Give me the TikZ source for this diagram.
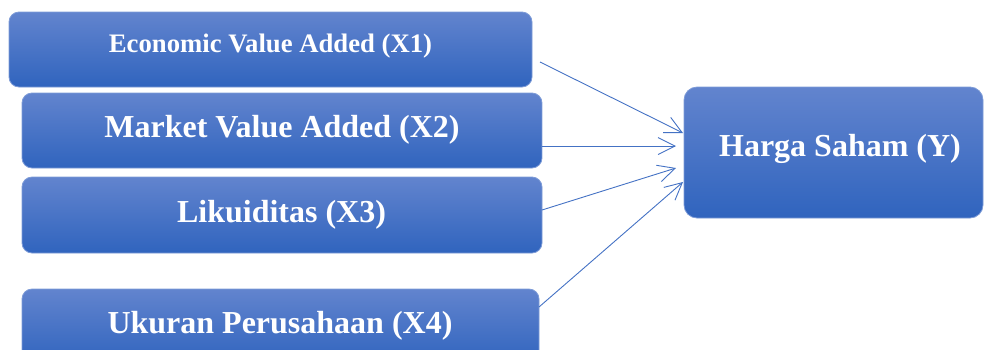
\documentclass[tikz,border=0pt]{standalone}
\usepackage{fontspec}
\setmainfont{Liberation Serif}
\usetikzlibrary{arrows.meta}

\definecolor{boxtop}{RGB}{98,132,206}
\definecolor{boxbot}{RGB}{48,100,190}
\definecolor{boxedge}{RGB}{125,155,215}
\definecolor{linkblue}{RGB}{68,114,196}

\begin{document}
\begin{tikzpicture}[x=1pt,y=-1pt,
  varbox/.style={draw=boxedge, line width=0.8pt, rounded corners=10pt,
    top color=boxtop, bottom color=boxbot, inner sep=0pt},
  lbl/.style={text=white, font=\bfseries\fontsize{32}{38}\selectfont,
    anchor=base, inner sep=0pt},
  smalllbl/.style={lbl, font=\bfseries\fontsize{26.7}{32}\selectfont},
  link/.style={draw=linkblue, line width=0.9pt,
    -{Straight Barb[length=17pt,width=17pt,line width=0.9pt]}}]

\useasboundingbox (0,0) rectangle (984,349);

% independent variables
\node[varbox, minimum width=523pt, minimum height=75pt] (x1) at (270.5,49.5) {};
\node[varbox, minimum width=520pt, minimum height=75pt] (x2) at (282,130.5) {};
\node[varbox, minimum width=520pt, minimum height=76pt] (x3) at (282,215) {};
\node[varbox, minimum width=517pt, minimum height=75pt] (x4) at (280.5,326.5) {};
% dependent variable
\node[varbox, rounded corners=13pt, minimum width=299pt, minimum height=131pt] (y) at (833.5,152.5) {};

% labels
\node[smalllbl] (t1) at (270.5,52) {Economic Value Added (X1)};
\node[lbl] (t2) at (282,137) {Market Value Added (X2)};
\node[lbl] (t3) at (281.5,222) {Likuiditas (X3)};
\node[lbl] (t4) at (280,333) {Ukuran Perusahaan (X4)};
\node[lbl] (ty) at (840,156) {Harga Saham (Y)};

% connector end points
\coordinate (s1) at (540,62);
\coordinate (s2) at (542,146);
\coordinate (s3) at (542,210);
\coordinate (s4) at (539,307);
\coordinate (e1) at (683,133);
\coordinate (e2) at (676,146);
\coordinate (e3) at (676,168);
\coordinate (e4) at (683,182);

\draw[link] (s1) -- (e1);
\draw[link] (s2) -- (e2);
\draw[link] (s3) -- (e3);
\draw[link] (s4) -- (e4);
\end{tikzpicture}
\end{document}
